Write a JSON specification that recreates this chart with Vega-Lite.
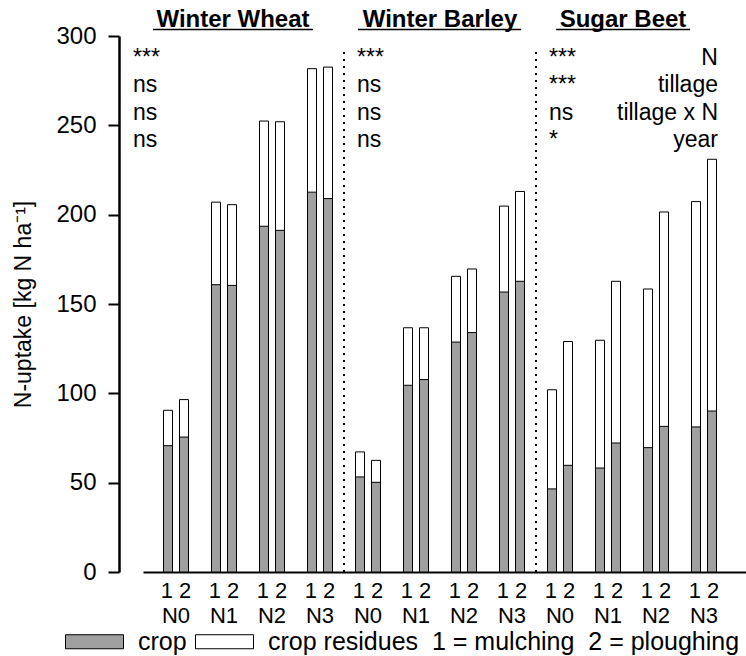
{
  "$schema": "https://vega.github.io/schema/vega-lite/v6.json",
  "autosize": {"type": "none"},
  "padding": {"left": 143, "top": 36, "right": 0, "bottom": 84},
  "width": 603,
  "height": 536,
  "config": {"view": {"stroke": null}, "font": "Liberation Sans", "text": {"font": "Liberation Sans", "color": "black"}},
  "datasets": {
    "bars": [
      {"crop_type": "Winter Wheat", "pair": "WW-N0", "tillage": 1, "crop": 70.7, "total": 90.5},
      {"crop_type": "Winter Wheat", "pair": "WW-N0", "tillage": 2, "crop": 75.5, "total": 96.5},
      {"crop_type": "Winter Wheat", "pair": "WW-N1", "tillage": 1, "crop": 160.8, "total": 207},
      {"crop_type": "Winter Wheat", "pair": "WW-N1", "tillage": 2, "crop": 160.4, "total": 205.6},
      {"crop_type": "Winter Wheat", "pair": "WW-N2", "tillage": 1, "crop": 193.5, "total": 252.4},
      {"crop_type": "Winter Wheat", "pair": "WW-N2", "tillage": 2, "crop": 191.2, "total": 252},
      {"crop_type": "Winter Wheat", "pair": "WW-N3", "tillage": 1, "crop": 212.6, "total": 281.7},
      {"crop_type": "Winter Wheat", "pair": "WW-N3", "tillage": 2, "crop": 209, "total": 282.6},
      {"crop_type": "Winter Barley", "pair": "WB-N0", "tillage": 1, "crop": 53.2, "total": 67.2},
      {"crop_type": "Winter Barley", "pair": "WB-N0", "tillage": 2, "crop": 50.2, "total": 62.5},
      {"crop_type": "Winter Barley", "pair": "WB-N1", "tillage": 1, "crop": 104.5, "total": 136.7},
      {"crop_type": "Winter Barley", "pair": "WB-N1", "tillage": 2, "crop": 107.7, "total": 136.7},
      {"crop_type": "Winter Barley", "pair": "WB-N2", "tillage": 1, "crop": 128.7, "total": 165.5},
      {"crop_type": "Winter Barley", "pair": "WB-N2", "tillage": 2, "crop": 134, "total": 169.6},
      {"crop_type": "Winter Barley", "pair": "WB-N3", "tillage": 1, "crop": 156.7, "total": 204.8},
      {"crop_type": "Winter Barley", "pair": "WB-N3", "tillage": 2, "crop": 162.7, "total": 213},
      {"crop_type": "Sugar Beet", "pair": "SB-N0", "tillage": 1, "crop": 46.5, "total": 102},
      {"crop_type": "Sugar Beet", "pair": "SB-N0", "tillage": 2, "crop": 59.7, "total": 129},
      {"crop_type": "Sugar Beet", "pair": "SB-N1", "tillage": 1, "crop": 58.2, "total": 129.7},
      {"crop_type": "Sugar Beet", "pair": "SB-N1", "tillage": 2, "crop": 72.2, "total": 162.7},
      {"crop_type": "Sugar Beet", "pair": "SB-N2", "tillage": 1, "crop": 69.6, "total": 158.4},
      {"crop_type": "Sugar Beet", "pair": "SB-N2", "tillage": 2, "crop": 81.5, "total": 201.5},
      {"crop_type": "Sugar Beet", "pair": "SB-N3", "tillage": 1, "crop": 81.2, "total": 207.3},
      {"crop_type": "Sugar Beet", "pair": "SB-N3", "tillage": 2, "crop": 90.1, "total": 231}
    ],
    "sig": [
      {"crop_type": "Winter Wheat", "pair": "WW-N0", "level": 284, "label": "***"},
      {"crop_type": "Winter Wheat", "pair": "WW-N0", "level": 268.7, "label": "ns"},
      {"crop_type": "Winter Wheat", "pair": "WW-N0", "level": 253, "label": "ns"},
      {"crop_type": "Winter Wheat", "pair": "WW-N0", "level": 238, "label": "ns"},
      {"crop_type": "Winter Barley", "pair": "WB-N0", "level": 284, "label": "***"},
      {"crop_type": "Winter Barley", "pair": "WB-N0", "level": 268.7, "label": "ns"},
      {"crop_type": "Winter Barley", "pair": "WB-N0", "level": 253, "label": "ns"},
      {"crop_type": "Winter Barley", "pair": "WB-N0", "level": 238, "label": "ns"},
      {"crop_type": "Sugar Beet", "pair": "SB-N0", "level": 284, "label": "***"},
      {"crop_type": "Sugar Beet", "pair": "SB-N0", "level": 268.7, "label": "***"},
      {"crop_type": "Sugar Beet", "pair": "SB-N0", "level": 253, "label": "ns"},
      {"crop_type": "Sugar Beet", "pair": "SB-N0", "level": 238, "label": "*"}
    ],
    "factors": [
      {"pair": "SB-N3", "level": 284, "label": "N"},
      {"pair": "SB-N3", "level": 268.7, "label": "tillage"},
      {"pair": "SB-N3", "level": 253, "label": "tillage x N"},
      {"pair": "SB-N3", "level": 238, "label": "year"}
    ],
    "titles": [
      {"crop_type": "Winter Wheat", "pair": "WW-N1", "start": "WW-N0", "end": "WW-N3", "level": 305, "line": 303.6, "label": "Winter Wheat"},
      {"crop_type": "Winter Barley", "pair": "WB-N1", "start": "WB-N0", "end": "WB-N3", "level": 305, "line": 303.6, "label": "Winter Barley"},
      {"crop_type": "Sugar Beet", "pair": "SB-N1", "start": "SB-N0", "end": "SB-N3", "level": 305, "line": 303.6, "label": "Sugar Beet"}
    ],
    "seps": [
      {"pair": "WB-N0", "top": 291},
      {"pair": "SB-N0", "top": 291}
    ]
  },
  "layer": [
    {
      "data": {"name": "bars"},
      "mark": {"type": "bar", "stroke": "black", "strokeWidth": 1},
      "encoding": {
        "x": {
          "field": "pair", "type": "nominal", "title": null,
          "scale": {"domain": ["WW-N0", "WW-N1", "WW-N2", "WW-N3", "WB-N0", "WB-N1", "WB-N2", "WB-N3", "SB-N0", "SB-N1", "SB-N2", "SB-N3"], "paddingInner": 0, "paddingOuter": 0.28125, "align": 0.3333},
          "axis": {"orient": "bottom", "domainColor": "black", "domainWidth": 2, "ticks": false, "labelAngle": 0, "labelFontSize": 22, "labelColor": "black", "labelPadding": 8, "labelLineHeight": 25, "labelExpr": "['1 2', split(datum.label, '-')[1]]", "grid": false, "labelLimit": 300}
        },
        "xOffset": {"field": "tillage", "type": "nominal", "scale": {"domain": [1, 2], "paddingInner": 0.4375, "paddingOuter": 0.71875}},
        "y": {
          "field": "total", "type": "quantitative", "stack": null,
          "scale": {"domain": [0, 300], "nice": false},
          "axis": {"values": [0, 50, 100, 150, 200, 250, 300], "offset": 24, "domainColor": "black", "domainWidth": 2.5, "tickColor": "black", "tickWidth": 2, "tickSize": 11, "labelFontSize": 24, "labelColor": "black", "labelPadding": 12, "grid": false, "title": "N-uptake [kg N ha⁻¹]", "titleFontSize": 23, "titleFontWeight": "normal", "titleColor": "black", "titlePadding": 20}
        },
        "color": {
          "datum": "crop residues",
          "scale": {"domain": ["crop", "crop residues"], "range": ["#a0a0a0", "#ffffff"]},
          "legend": {"orient": "none", "legendX": -78, "legendY": 576, "direction": "horizontal", "title": null, "symbolType": "M-1,-0.2414H1V0.2414H-1Z", "symbolSize": 3364, "symbolStrokeColor": "black", "symbolStrokeWidth": 1, "symbolOpacity": 1, "labelFontSize": 25, "labelColor": "black", "labelOffset": 14, "columnPadding": 6, "labelLimit": 700, "labelExpr": "datum.label == 'crop residues' ? 'crop residues\u00a0 1 = mulching\u00a0 2 = ploughing' : datum.label"}
        }
      }
    },
    {
      "data": {"name": "bars"},
      "mark": {"type": "bar", "stroke": "black", "strokeWidth": 1},
      "encoding": {
        "x": {"field": "pair", "type": "nominal"},
        "xOffset": {"field": "tillage", "type": "nominal"},
        "y": {"field": "crop", "type": "quantitative", "stack": null},
        "color": {"datum": "crop"}
      }
    },
    {
      "data": {"name": "seps"},
      "mark": {"type": "rule", "color": "black", "strokeWidth": 2, "strokeDash": [2, 5]},
      "encoding": {
        "x": {"field": "pair", "type": "nominal", "bandPosition": 0},
        "y": {"field": "top", "type": "quantitative"},
        "y2": {"datum": 0}
      }
    },
    {
      "data": {"name": "sig"},
      "transform": [{"filter": "datum.crop_type == 'Winter Wheat'"}],
      "mark": {"type": "text", "align": "left", "baseline": "alphabetic", "dx": -19, "fontSize": 23},
      "encoding": {
        "x": {"field": "pair", "type": "nominal", "bandPosition": 0},
        "y": {"field": "level", "type": "quantitative"},
        "text": {"field": "label"}
      }
    },
    {
      "data": {"name": "sig"},
      "transform": [{"filter": "datum.crop_type != 'Winter Wheat'"}],
      "mark": {"type": "text", "align": "left", "baseline": "alphabetic", "dx": 13, "fontSize": 23},
      "encoding": {
        "x": {"field": "pair", "type": "nominal", "bandPosition": 0},
        "y": {"field": "level", "type": "quantitative"},
        "text": {"field": "label"}
      }
    },
    {
      "data": {"name": "factors"},
      "mark": {"type": "text", "align": "right", "baseline": "alphabetic", "dx": -10, "fontSize": 23},
      "encoding": {
        "x": {"field": "pair", "type": "nominal", "bandPosition": 1},
        "y": {"field": "level", "type": "quantitative"},
        "text": {"field": "label"}
      }
    },
    {
      "data": {"name": "titles"},
      "transform": [{"filter": "datum.crop_type == 'Winter Wheat'"}],
      "layer": [
        {"mark": {"type": "text", "align": "center", "baseline": "alphabetic", "dx": -15, "fontSize": 24, "fontWeight": "bold"},
         "encoding": {"x": {"field": "pair", "type": "nominal", "bandPosition": 1}, "y": {"field": "level", "type": "quantitative"}, "text": {"field": "label"}}},
        {"mark": {"type": "rule", "color": "black", "strokeWidth": 1.5},
         "encoding": {"x": {"field": "start", "type": "nominal", "bandPosition": 0.02}, "x2": {"field": "end", "bandPosition": 0.354}, "y": {"field": "line", "type": "quantitative"}}}
      ]
    },
    {
      "data": {"name": "titles"},
      "transform": [{"filter": "datum.crop_type == 'Winter Barley'"}],
      "layer": [
        {"mark": {"type": "text", "align": "center", "baseline": "alphabetic", "dx": 0, "fontSize": 24, "fontWeight": "bold"},
         "encoding": {"x": {"field": "pair", "type": "nominal", "bandPosition": 1}, "y": {"field": "level", "type": "quantitative"}, "text": {"field": "label"}}},
        {"mark": {"type": "rule", "color": "black", "strokeWidth": 1.5},
         "encoding": {"x": {"field": "start", "type": "nominal", "bandPosition": 0.29}, "x2": {"field": "end", "bandPosition": 0.69}, "y": {"field": "line", "type": "quantitative"}}}
      ]
    },
    {
      "data": {"name": "titles"},
      "transform": [{"filter": "datum.crop_type == 'Sugar Beet'"}],
      "layer": [
        {"mark": {"type": "text", "align": "center", "baseline": "alphabetic", "dx": -9, "fontSize": 24, "fontWeight": "bold"},
         "encoding": {"x": {"field": "pair", "type": "nominal", "bandPosition": 1}, "y": {"field": "level", "type": "quantitative"}, "text": {"field": "label"}}},
        {"mark": {"type": "rule", "color": "black", "strokeWidth": 1.5},
         "encoding": {"x": {"field": "start", "type": "nominal", "bandPosition": 0.42}, "x2": {"field": "end", "bandPosition": 0.21}, "y": {"field": "line", "type": "quantitative"}}}
      ]
    }
  ]
}
